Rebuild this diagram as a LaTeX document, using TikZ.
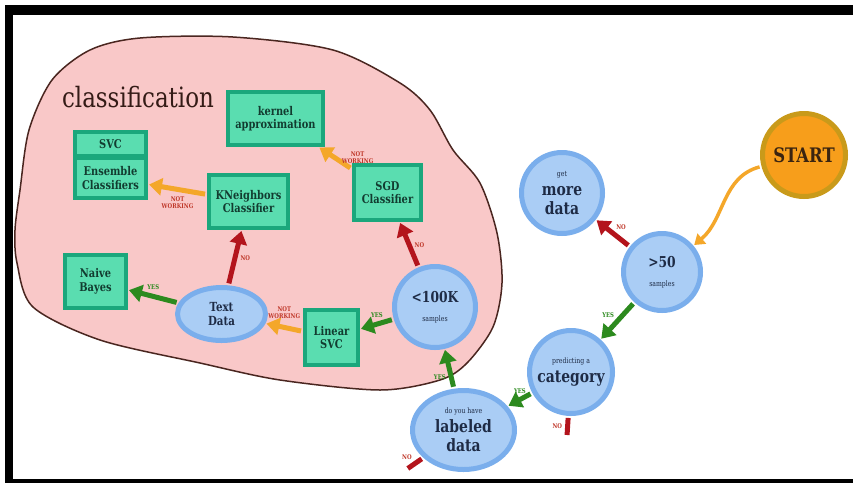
\documentclass[tikz,border=0pt]{standalone}
\usepackage{fontspec}
\setmainfont{DejaVu Serif}[FakeStretch=0.82]
\usetikzlibrary{arrows.meta,shapes.geometric}

\definecolor{blobfill}{HTML}{F9C8C8}
\definecolor{blobedge}{HTML}{4A2620}
\definecolor{boxedge}{HTML}{1BA77C}
\definecolor{boxfill}{HTML}{5ADDB0}
\definecolor{boxtext}{HTML}{123C30}
\definecolor{ringblue}{HTML}{7AAEEC}
\definecolor{discblue}{HTML}{AACDF5}
\definecolor{inktext}{HTML}{1E2B45}
\definecolor{startring}{HTML}{C99A1A}
\definecolor{startfill}{HTML}{F79E1B}
\definecolor{starttext}{HTML}{3A2410}
\definecolor{noarrow}{HTML}{B3141C}
\definecolor{yesarrow}{HTML}{2C8A1E}
\definecolor{nwarrow}{HTML}{F4A72A}
\definecolor{tagred}{HTML}{C0392B}

\newcommand{\smalltag}[1]{{\fontsize{7.5}{8}\selectfont\mdseries #1}}

\begin{document}
\begin{tikzpicture}[x=1pt,y=-1pt,->,>={Triangle[length=13pt,width=17pt]},shorten >=1pt,shorten <=2pt,
  algo node/.style={rectangle,draw=boxedge,line width=4pt,fill=boxfill,
  text=boxtext,font=\fontsize{12}{13.5}\selectfont\bfseries,align=center,inner sep=0pt},
  test node/.style={circle,draw=ringblue,line width=5pt,fill=discblue,
  text=inktext,font=\fontsize{17}{19}\selectfont\bfseries,align=center,inner sep=0pt},
  test oval/.style={test node,ellipse},
  yes edge/.style={draw=yesarrow,line width=5pt},
  no edge/.style={draw=noarrow,line width=5pt},
  nw edge/.style={draw=nwarrow,line width=5pt}]

  \useasboundingbox (0,0) rectangle (853,483);

  % frame of the screenshot
  \fill[black] (5,5) rectangle (853,15);
  \fill[black] (5,5) rectangle (13,483);
  \fill[black] (5,479) rectangle (853,483);

  % classification area
  \draw[-,fill=blobfill,draw=blobedge,line width=1.5pt] plot[smooth cycle] coordinates {
    (453,150) (480,183) (497,233) (502,283) (493,327) (467,363) (440,380)
    (380,390) (280,380) (200,363) (100,340) (33,307) (17,263) (15,230)
    (20,190) (29,130) (52,80) (90,50) (140,38) (233,37) (333,50) (400,83) (430,110)};
  \node[font=\fontsize{28}{30}\selectfont,text=blobedge!70!black] (title) at (138,97) {classification};

  \node[algo node,minimum width=95,minimum height=53] (kernel) at (275.5,118.5) {kernel\\approximation};
  \node[algo node,minimum width=71,minimum height=40] (ens) at (110.5,178) {Ensemble\\Classifiers};
  \node[algo node,minimum width=71,minimum height=24] (svc) at (110.5,144) {SVC};
  \node[algo node,minimum width=79,minimum height=53] (knn) at (248.5,201.5) {KNeighbors\\Classifier};
  \node[algo node,minimum width=67,minimum height=55] (sgd) at (387.5,192.5) {SGD\\Classifier};
  \node[algo node,minimum width=61,minimum height=53] (bayes) at (95.5,281.5) {Naive\\Bayes};
  \node[algo node,minimum width=53,minimum height=55] (linsvc) at (331.5,337.5) {Linear\\SVC};
  \node[test oval,minimum width=88,minimum height=53,font=\fontsize{12.5}{14}\selectfont\bfseries] (text) at (221.5,314) {Text\\Data};
  \node[test node,minimum size=81] (lt100k) at (435,307) {{\fontsize{15}{16}\selectfont <100K}\\\smalltag{samples}};

  % questions outside
  \node[test oval,minimum width=102,minimum height=79] (labeled) at (463.5,430) {\smalltag{do you have}\\labeled\\data};
  \node[test node,minimum size=83] (cat) at (571,372) {\smalltag{predicting a}\\category};
  \node[test node,minimum size=77] (gt50) at (662,272) {{\fontsize{15}{16}\selectfont >50}\\\smalltag{samples}};
  \node[test node,minimum size=81] (more) at (562,193) {\smalltag{get}\\more\\data};
  \node[test node,draw=startring,fill=startfill,text=starttext,minimum size=83,
    font=\fontsize{20}{21}\selectfont\bfseries] (start) at (804,155) {START};

  \coordinate (catno) at (567,436);
  \coordinate (labno) at (407,469);

  \path[every node/.style={font=\fontsize{6.5}{7}\selectfont\bfseries,inner sep=1pt,align=center}]

    %Shows the way in from the start
    (start) edge[nw edge,line width=3.5pt,out=195,in=40,>={Triangle[length=10pt,width=13pt]}] (gt50)

    %Shows the answers to the sample questions
    (gt50) edge[no edge] node[text=tagred,above right] {NO} (more)
    (gt50) edge[yes edge] node[text=yesarrow,above left] {YES} (cat)
    (cat) edge[yes edge] node[text=yesarrow,above=2pt] {YES} (labeled)
    (cat) edge[no edge,-] node[text=tagred,left=2pt] {NO} (catno)
    (labeled) edge[no edge,-] node[text=tagred,above left] {NO} (labno)
    (labeled) edge[yes edge] node[text=yesarrow,pos=0.3,left=2pt] {YES} (lt100k)

    %Shows the way through the classification area
    (lt100k) edge[no edge] node[text=tagred,right=2pt] {NO} (sgd)
    (lt100k) edge[yes edge] node[text=yesarrow,above=3pt] {YES} (linsvc)
    (sgd) edge[nw edge] node[text=tagred,right=3pt] {NOT\\WORKING} (kernel)
    (linsvc) edge[nw edge] node[text=tagred,above=5pt] {NOT\\WORKING} (text)
    (text) edge[yes edge] node[text=yesarrow,above=3pt] {YES} (bayes)
    (text) edge[no edge] node[text=tagred,right=2pt] {NO} (knn)
    (knn) edge[nw edge] node[text=tagred,below=4pt] {NOT\\WORKING} (ens);

\end{tikzpicture}
\end{document}
